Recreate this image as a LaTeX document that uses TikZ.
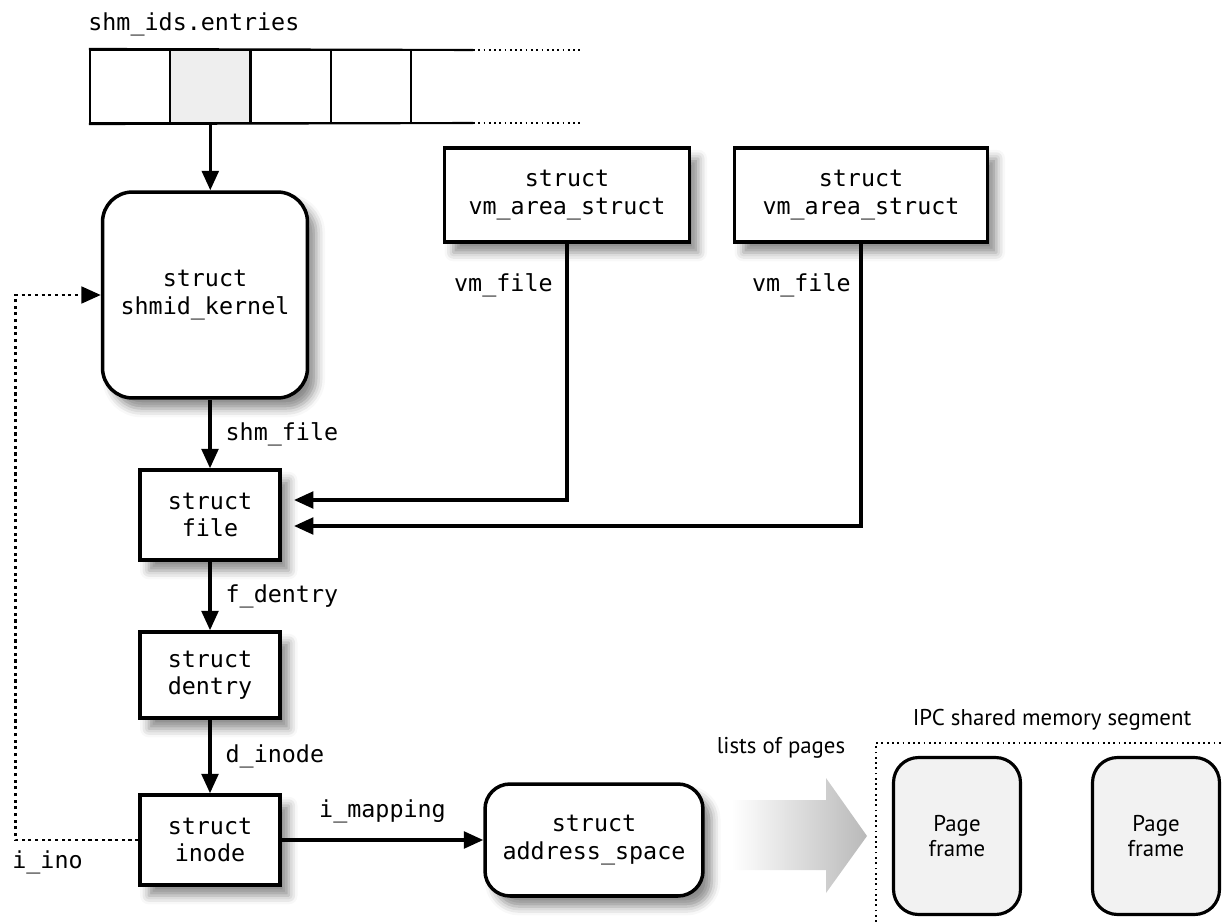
\documentclass[tikz,border=0pt]{standalone}
\usepackage{fontspec}
\setmonofont{DejaVu Sans Mono}
\setsansfont{PT Sans}
\usetikzlibrary{arrows.meta, shadows.blur}
\colorlet{cellgray}{gray!13}
\colorlet{pagegray}{gray!10}
\colorlet{arrowgray}{gray!55}
\newcommand{\ttlab}{\ttfamily\fontsize{13.3}{15.5}\selectfont}
\newcommand{\sflab}{\sffamily\fontsize{13}{14.5}\selectfont}

\begin{document}
\begin{tikzpicture}[x=0.02cm, y=-0.02cm, >=Stealth,
    ptr/.style={-{Triangle[length=11pt, width=9.5pt]}, line width=1.8pt},
    cell/.style={draw, line width=1.2pt, minimum width=1.6cm, minimum height=1.46cm, inner sep=0pt},
    structbox/.style={draw, line width=2pt, fill=white, align=center, inner sep=0pt, font=\ttlab,
      blur shadow={shadow xshift=5pt, shadow yshift=-6pt, shadow opacity=45, shadow blur radius=5pt}},
    pageframe/.style={draw, line width=1.8pt, fill=pagegray, rounded corners=0.5cm, align=center,
      minimum width=2.54cm, minimum height=3.14cm, font=\sflab},
    fieldlab/.style={font=\ttlab, inner sep=0pt}]
    \useasboundingbox (0,0) rectangle (1224,922);

    % Entries array
    \node[font=\ttlab, anchor=south west, inner sep=0pt] (entries) at (88,36) {shm\_ids.entries};
    \foreach \i/\f in {0/white, 1/cellgray, 2/white, 3/white}
      \node[cell, fill=\f] (c\i) at ({130+80.3*\i},86.5) {};
    \coordinate (topend) at (473,50);
    \coordinate (botend) at (473,123);
    \draw[line width=1.2pt] (c0.north west) -- (topend);
    \draw[line width=1.2pt] (c0.south west) -- (botend);
    \draw[dotted, line width=1pt] (topend) -- ++(107,0);
    \draw[dotted, line width=1pt] (botend) -- ++(107,0);

    % Structures
    \node[structbox, rounded corners=0.6cm, minimum width=4.1cm, minimum height=4.12cm] (kernel) at (205,295) {struct\\shmid\_kernel};
    \node[structbox, minimum width=2.8cm, minimum height=1.8cm] (file) at (210,515) {struct\\file};
    \node[structbox, minimum width=2.8cm, minimum height=1.72cm] (dentry) at (210,675) {struct\\dentry};
    \node[structbox, minimum width=2.8cm, minimum height=1.8cm] (inode) at (210,840) {struct\\inode};
    \node[structbox, rounded corners=0.5cm, minimum width=4.36cm, minimum height=2.24cm] (aspace) at (594,840) {struct\\address\_space};
    \node[structbox, minimum width=4.9cm, minimum height=1.88cm] (vma1) at (567,195) {struct\\vm\_area\_struct};
    \node[structbox, minimum width=5.06cm, minimum height=1.88cm] (vma2) at (861,195) {struct\\vm\_area\_struct};

    % Pointers
    \draw[ptr] (c1.south) -- (c1.south |- kernel.north);
    \draw[ptr] (file.north |- kernel.south) -- node[fieldlab, right=8pt] {shm\_file} (file.north);
    \draw[ptr] (file.south) -- node[fieldlab, right=8pt] {f\_dentry} (dentry.north);
    \draw[ptr] (dentry.south) -- node[fieldlab, right=8pt] {d\_inode} (inode.north);
    \draw[ptr] (inode.east) -- node[fieldlab, above=9pt] {i\_mapping} (aspace.west);
    \draw[ptr, shorten >=7pt] (vma1.south) |- ([yshift=0.3cm]file.east);
    \draw[ptr, shorten >=7pt] (vma2.south) |- ([yshift=-0.22cm]file.east);
    \node[fieldlab, anchor=east] (vmf1) at (553,285) {vm\_file};
    \node[fieldlab, anchor=east] (vmf2) at (851,285) {vm\_file};
    \draw[ptr, dotted, line width=1.5pt] (inode.west) -- ++(-123,0) |- (kernel.west);
    \node[fieldlab, anchor=west] (ino) at (12,862) {i\_ino};

    % Shared memory segment
    \shade[left color=white, right color=arrowgray] (732,800) -- (826,800) -- (826,778) -- (867,836)
      -- (826,893) -- (826,870) -- (732,870) -- cycle;
    \node[font=\sflab] (lists) at (781,748) {lists of pages};
    \draw[dotted, line width=1pt] (876,922) -- (876,743) -- (1224,743);
    \node[font=\sflab] (seg) at (1052,720) {IPC shared memory segment};
    \node[pageframe] (page1) at (957,836) {Page\\frame};
    \node[pageframe] (page2) at (1156,836) {Page\\frame};
  \end{tikzpicture}
\end{document}
